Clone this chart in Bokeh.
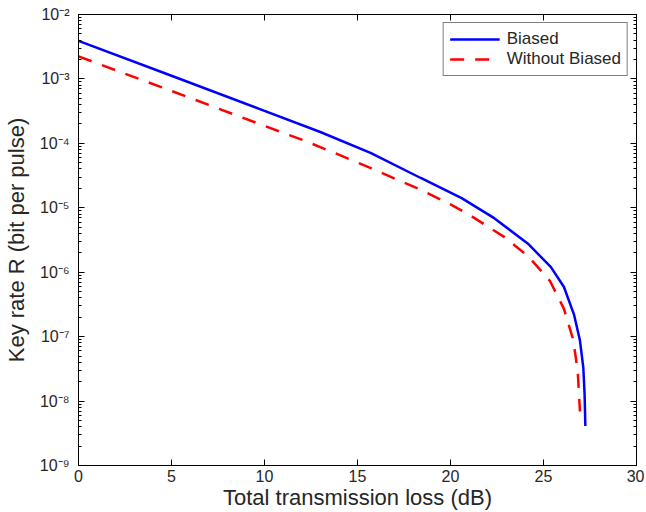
from bokeh.plotting import figure
from bokeh.models import (LogAxis, LinearAxis, CustomJSTickFormatter, Legend, LegendItem,
                          FixedTicker, LogTicker, Range1d)
from bokeh.embed import file_html
from bokeh.resources import INLINE

# Data
biased_x = [0, 5, 10, 13.0, 15.7, 18.4, 20.6, 22.35, 24.15, 25.4, 26.1, 26.64, 26.96,
            27.14, 27.21, 27.25]
biased_y = [3.9e-3, 1.12e-3, 3.2e-4, 1.5e-4, 7.1e-5, 2.9e-5, 1.41e-5, 6.9e-6, 2.8e-6,
            1.2e-6, 5.9e-7, 2.2e-7, 8.7e-8, 3.3e-8, 1.26e-8, 4.1e-9]

without_x = [0, 5, 10, 12.15, 14.15, 15.75, 17.3, 18.4, 19.9, 21.1, 22.9, 24.2, 25.35,
             26.1, 26.6, 26.84, 26.96]
without_y = [2.24e-3, 6.5e-4, 1.87e-4, 1.1e-4, 6.4e-5, 4.1e-5, 2.6e-5, 1.9e-5, 1.17e-5,
             7.5e-6, 3.5e-6, 1.74e-6, 7.3e-7, 2.7e-7, 8.9e-8, 2.9e-8, 6.9e-9]

x_ticks = [0, 5, 10, 15, 20, 25, 30]

FONT = "Liberation Sans"
TXT = "#262626"

p = figure(width=644, height=512, output_backend="svg", toolbar_location=None,
           y_axis_type="log", x_range=Range1d(0, 30), y_range=Range1d(1e-9, 1e-2),
           min_border_left=77, min_border_right=8, min_border_top=14, min_border_bottom=0)
p.xgrid.visible = False
p.ygrid.visible = False
p.outline_line_color = "black"
p.outline_line_width = 1
p.background_fill_color = "white"
p.border_fill_color = "white"

sup = CustomJSTickFormatter(code="""
const m = {'-':'\u207b','0':'\u2070','1':'\u00b9','2':'\u00b2','3':'\u00b3','4':'\u2074',
           '5':'\u2075','6':'\u2076','7':'\u2077','8':'\u2078','9':'\u2079'};
const e = Math.round(Math.log10(tick));
return '10' + String(e).split('').map(c => m[c]).join('');
""")

for ax in p.yaxis:
    ax.ticker = LogTicker(desired_num_ticks=8, num_minor_ticks=10, mantissas=[1])
    ax.formatter = sup
for ax in p.xaxis:
    ax.ticker = FixedTicker(ticks=x_ticks, minor_ticks=[])

def style(ax):
    ax.axis_line_color = "black"
    ax.axis_line_width = 1
    ax.major_tick_in = 6
    ax.major_tick_out = 0
    ax.minor_tick_in = 3
    ax.minor_tick_out = 0
    ax.major_tick_line_color = "black"
    ax.minor_tick_line_color = "black"
    ax.major_label_text_font = FONT
    ax.major_label_text_color = TXT
    ax.major_label_text_font_size = "16px"
    ax.axis_label_text_font = FONT
    ax.axis_label_text_color = TXT
    ax.axis_label_text_font_size = "22px"
    ax.axis_label_text_font_style = "normal"

for ax in p.xaxis + p.yaxis:
    style(ax)
p.xaxis.axis_label = "Total transmission loss (dB)"
p.yaxis.axis_label = "Key rate R (bit per pulse)"
p.xaxis.major_label_standoff = 4
p.yaxis.major_label_standoff = 9
p.xaxis.axis_label_standoff = 0
p.yaxis.axis_label_standoff = 8

r_ax = LogAxis(ticker=LogTicker(desired_num_ticks=8, num_minor_ticks=10, mantissas=[1]))
style(r_ax)
r_ax.major_label_text_font_size = "1px"
r_ax.major_label_text_alpha = 0
r_ax.major_label_standoff = 0
p.add_layout(r_ax, "right")

t_ax = LinearAxis(ticker=FixedTicker(ticks=x_ticks, minor_ticks=[]))
style(t_ax)
t_ax.major_label_text_font_size = "1px"
t_ax.major_label_text_alpha = 0
t_ax.major_label_standoff = 0
p.add_layout(t_ax, "above")

r1 = p.line(biased_x, biased_y, line_color="#0000ff", line_width=2.5)
r2 = p.line(without_x, without_y, line_color="#ff0000", line_width=2.5, line_dash="14 11")

leg = Legend(items=[LegendItem(label="Biased", renderers=[r1]),
                    LegendItem(label="Without Biased", renderers=[r2])],
             location="top_right")
leg.border_line_color = "black"
leg.border_line_width = 1
leg.label_text_font = FONT
leg.label_text_font_size = "17px"
leg.label_text_color = TXT
leg.glyph_width = 50
leg.glyph_height = 20
leg.label_height = 20
leg.spacing = 0
leg.padding = 6
leg.margin = 8
leg.label_standoff = 7
p.add_layout(leg)

open("out.html", "w").write(file_html(p, INLINE))
